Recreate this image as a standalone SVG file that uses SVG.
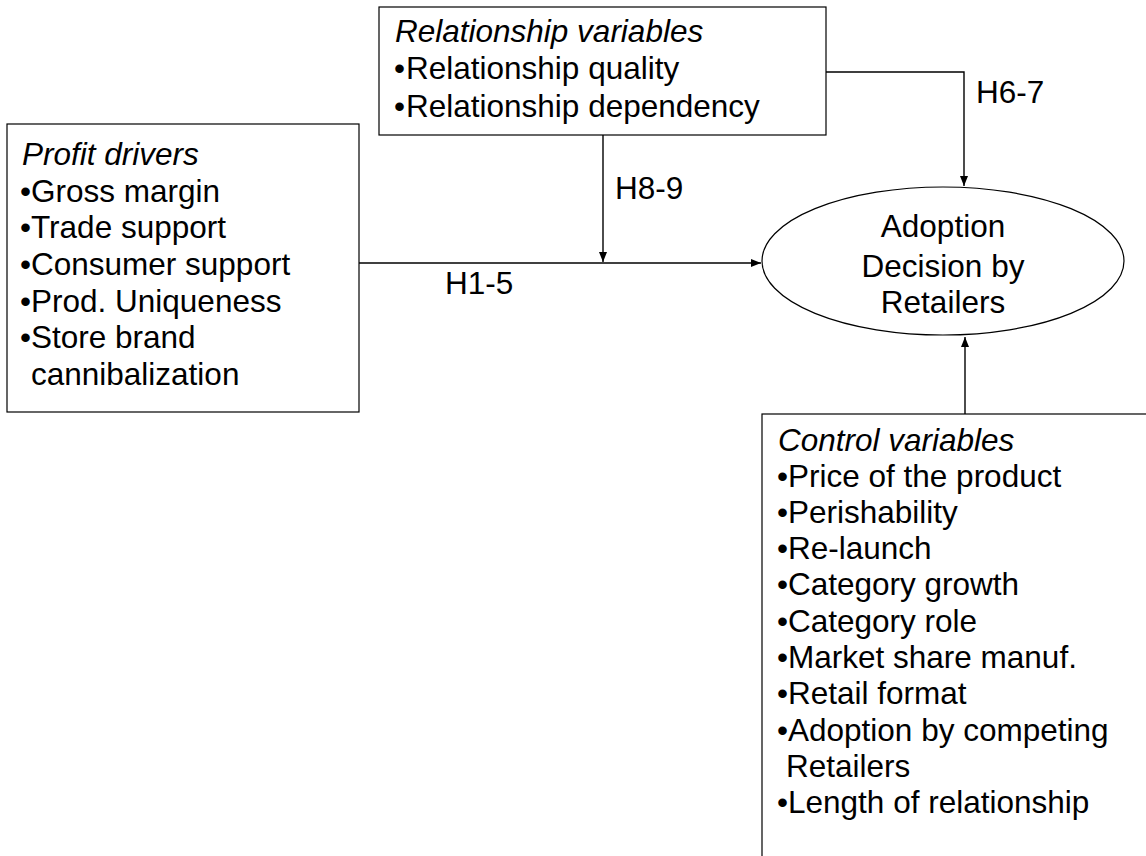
<svg xmlns="http://www.w3.org/2000/svg" width="1146" height="856" viewBox="0 0 1146 856">
<style>
text{font-family:"Liberation Sans",Arial,sans-serif;font-size:31.5px;fill:#000}
.it{font-style:italic}
.box{fill:#fff;stroke:#000;stroke-width:1.2}
.conn{fill:none;stroke:#000;stroke-width:1.4}
</style>
<defs>
<marker id="arr" viewBox="0 0 10 8" refX="10" refY="4" markerWidth="10" markerHeight="8" markerUnits="userSpaceOnUse" orient="auto">
<path d="M0,0 L10,4 L0,8 Z" fill="#000"/>
</marker>
</defs>
<rect width="1146" height="856" fill="#fff"/>
<g id="connectors">
<path class="conn" d="M826,72 H964 V186" marker-end="url(#arr)"/>
<path class="conn" d="M603,135 V262" marker-end="url(#arr)"/>
<path class="conn" d="M359,263 H761" marker-end="url(#arr)"/>
<path class="conn" d="M965,414 V337" marker-end="url(#arr)"/>
</g>
<g id="relationship">
<rect class="box" x="379" y="7" width="447" height="128"/>
<text x="395" y="42" class="it">Relationship variables</text>
<text x="394" y="79">•<tspan dx="1">Relationship quality</tspan></text>
<text x="394" y="117">•<tspan dx="1">Relationship dependency</tspan></text>
</g>
<g id="profit">
<rect class="box" x="7" y="124" width="352" height="288"/>
<text x="22" y="165" class="it">Profit drivers</text>
<text x="20" y="202">•Gross margin</text>
<text x="20" y="238">•Trade support</text>
<text x="20" y="275">•Consumer support</text>
<text x="20" y="312">•Prod. Uniqueness</text>
<text x="20" y="348">•Store brand</text>
<text x="31" y="385">cannibalization</text>
</g>
<g id="adoption">
<ellipse cx="943" cy="261" rx="181" ry="74" fill="#fff" stroke="#000" stroke-width="1.2"/>
<text x="943" y="237" text-anchor="middle">Adoption</text>
<text x="943" y="277" text-anchor="middle">Decision by</text>
<text x="943" y="313" text-anchor="middle">Retailers</text>
</g>
<g id="control">
<rect class="box" x="762" y="414" width="400" height="460"/>
<text x="778" y="451" class="it">Control variables</text>
<text x="777" y="487">•Price of the product</text>
<text x="777" y="523">•Perishability</text>
<text x="777" y="559">•Re-launch</text>
<text x="777" y="595">•Category growth</text>
<text x="777" y="632">•Category role</text>
<text x="777" y="668">•Market share manuf.</text>
<text x="777" y="704">•Retail format</text>
<text x="777" y="741">•Adoption by competing</text>
<text x="786" y="777">Retailers</text>
<text x="777" y="813">•Length of relationship</text>
</g>
<g id="labels">
<text x="976" y="103">H6-7</text>
<text x="615" y="199">H8-9</text>
<text x="445" y="294">H1-5</text>
</g>
</svg>
